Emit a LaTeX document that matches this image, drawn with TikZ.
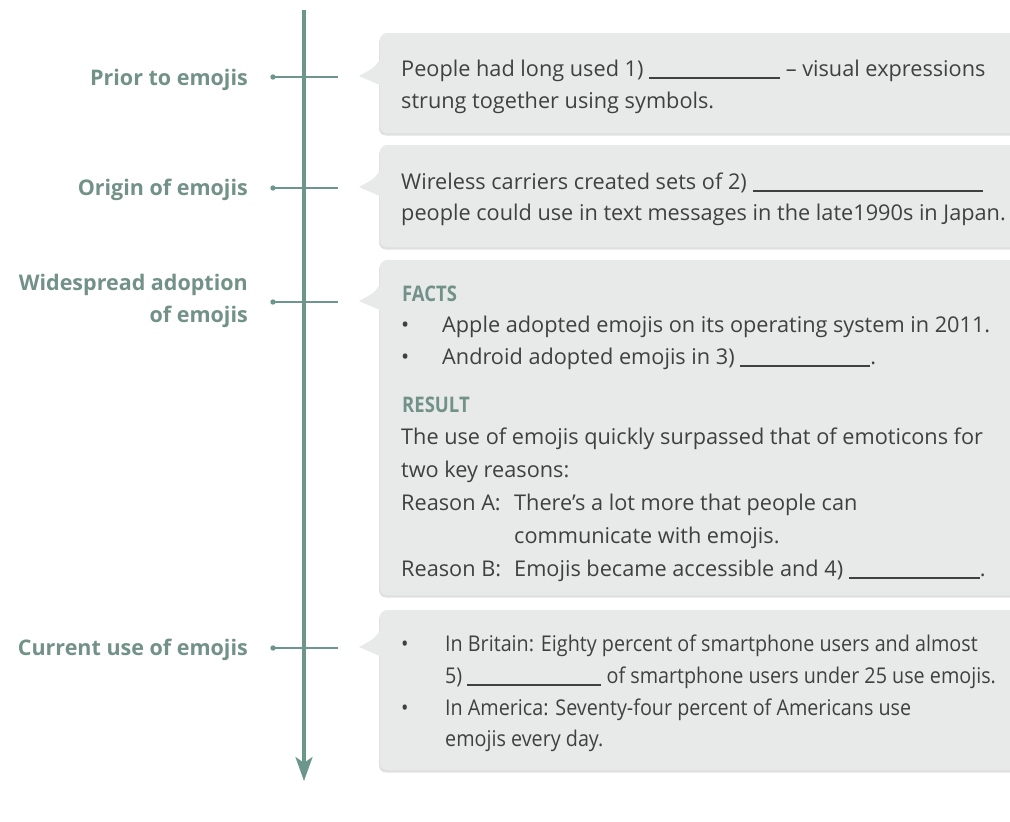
\documentclass[tikz,border=0pt]{standalone}
\usepackage{fontspec}
\setmainfont{Open Sans}
\newfontfamily\condfont{Open Sans}[FakeStretch=0.91]
\newfontfamily\headfont{Open Sans}[FakeStretch=0.86]
\usetikzlibrary{arrows.meta,shadows}
\definecolor{linegreen}{RGB}{108,150,139}
\definecolor{labelgreen}{RGB}{114,145,136}
\definecolor{boxgray}{RGB}{231,234,233}
\definecolor{txtgray}{RGB}{64,64,64}
\newcommand\blank[1]{\rule[-2.5pt]{#1pt}{1.1pt}}
\newcommand\bul[1]{\makebox[#1pt][l]{•}}
\begin{document}
\begin{tikzpicture}[x=1pt,y=-1pt,
  lbl/.style={font=\fontsize{21.5}{26}\selectfont\bfseries, text=labelgreen, anchor=base east, inner sep=0},
  txtline/.style={font=\fontsize{21.7}{26}\selectfont, text=txtgray, anchor=base west, inner sep=0},
  condline/.style={font=\fontsize{21.7}{26}\selectfont\condfont, text=txtgray, anchor=base west, inner sep=0},
  headline/.style={font=\fontsize{21.5}{26}\selectfont\headfont\bfseries, text=labelgreen, anchor=base west, inner sep=0},
  panel/.style={fill=boxgray, rounded corners=7pt, drop shadow={shadow xshift=-1pt, shadow yshift=-2.5pt, opacity=0.12, fill=black}},
  tail/.style={fill=boxgray},
  tick/.style={draw=linegreen, line width=1.5pt},
  dotmark/.style={fill=linegreen}
]
\useasboundingbox (0,0) rectangle (1010,822);
\clip (0,0) rectangle (1010,822);

% panels
\fill[panel] (380,33) rectangle (1030,133);
\fill[panel] (380,145) rectangle (1030,247);
\fill[panel] (380,260) rectangle (1030,595);
\fill[panel] (380,610) rectangle (1030,770);

% pointers
\foreach \yy in {77,188,302,648}{
  \fill[tail] (382,\yy-20) .. controls (374,\yy-9) .. (359,\yy-1) -- (382,\yy+9) -- cycle;
}

% timeline
\coordinate (vtop) at (304,10);
\coordinate (vend) at (304,781);
\draw[linegreen, line width=3.2pt, -{Stealth[length=24pt,width=17pt,inset=6pt]}] (vtop) -- (vend);

% ticks
\coordinate (d1) at (273,77);  \coordinate (e1) at (338,77);
\coordinate (d2) at (273,188); \coordinate (e2) at (338,188);
\coordinate (d3) at (273,302); \coordinate (e3) at (338,302);
\coordinate (d4) at (273,648); \coordinate (e4) at (338,648);
\draw[tick] (d1) -- (e1); \fill[dotmark] (d1) circle (2.7pt);
\draw[tick] (d2) -- (e2); \fill[dotmark] (d2) circle (2.7pt);
\draw[tick] (d3) -- (e3); \fill[dotmark] (d3) circle (2.7pt);
\draw[tick] (d4) -- (e4); \fill[dotmark] (d4) circle (2.7pt);

% labels
\node[lbl] (l1) at (248,85) {Prior to emojis};
\node[lbl] (l2) at (248,195) {Origin of emojis};
\node[lbl] (l3a) at (248,290) {Widespread adoption};
\node[lbl] (l3b) at (248,322) {of emojis};
\node[lbl] (l4) at (248,655) {Current use of emojis};

% box 1
\node[txtline] (b1a) at (401,76) {People had long used 1) \blank{131} – visual expressions};
\node[txtline] (b1b) at (401,108) {strung together using symbols.};
% box 2
\node[txtline] (b2a) at (401,189) {Wireless carriers created sets of 2) \blank{230}};
\node[txtline] (b2b) at (401,220) {people could use in text messages in the late1990s in Japan.};
% box 3
\node[headline] (b3h1) at (402,301) {FACTS};
\node[txtline] (b3a) at (401,332) {\bul{41}Apple adopted emojis on its operating system in 2011.};
\node[txtline] (b3b) at (401,364) {\bul{41}Android adopted emojis in 3) \blank{130}.};
\node[headline] (b3h2) at (402,412) {RESULT};
\node[txtline] (b3c) at (401,444) {The use of emojis quickly surpassed that of emoticons for};
\node[txtline] (b3d) at (401,477) {two key reasons:};
\node[txtline] (b3e) at (401,510) {\makebox[113pt][l]{Reason A:}There’s a lot more that people can};
\node[txtline] (b3f) at (514,543) {communicate with emojis.};
\node[txtline] (b3g) at (401,576) {\makebox[113pt][l]{Reason B:}Emojis became accessible and 4) \blank{131}.};
% box 4
\node[condline] (b4a) at (401,651) {\bul{44}In Britain: Eighty percent of smartphone users and almost};
\node[condline] (b4b) at (445,683) {5) \blank{134} of smartphone users under 25 use emojis.};
\node[condline] (b4c) at (401,715) {\bul{44}In America: Seventy-four percent of Americans use};
\node[condline] (b4d) at (445,746) {emojis every day.};
\end{tikzpicture}
\end{document}
